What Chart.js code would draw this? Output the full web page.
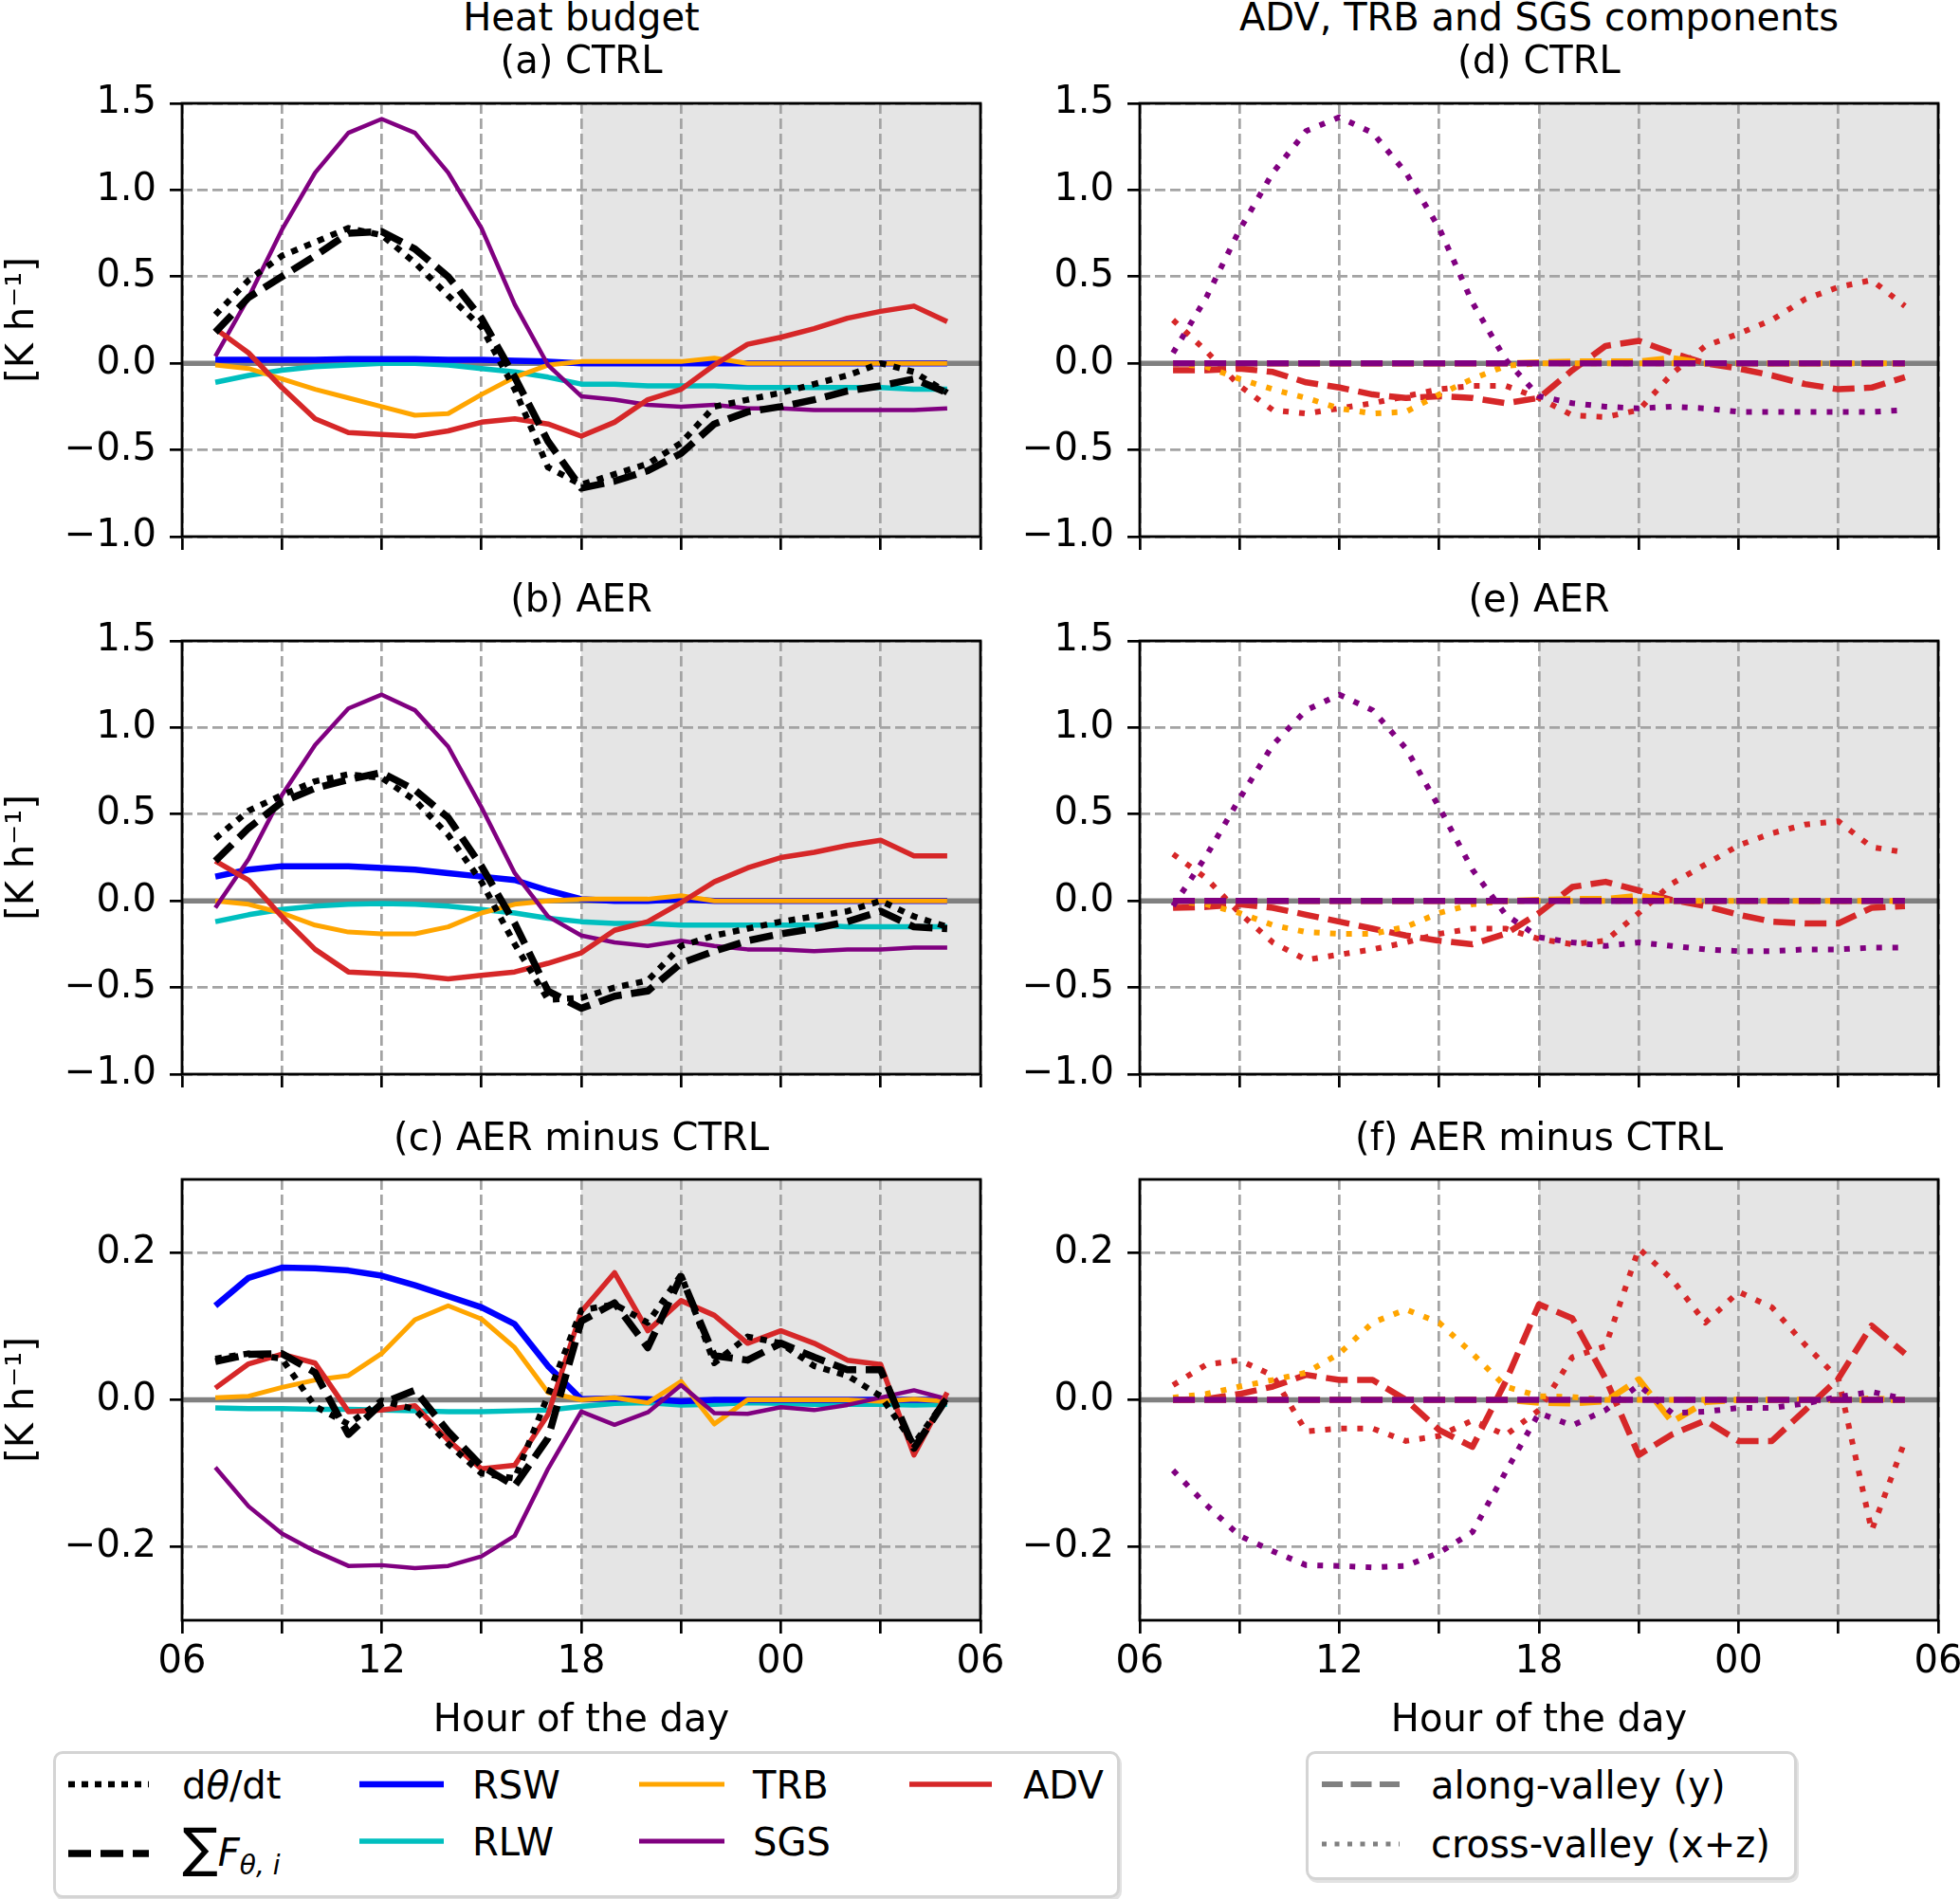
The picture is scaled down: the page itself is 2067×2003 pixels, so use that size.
<!DOCTYPE html>
<html>
<head>
<meta charset="utf-8">
<script src="https://cdn.jsdelivr.net/npm/chart.js@4.4.1/dist/chart.umd.min.js"></script>
<style>
html,body{margin:0;padding:0;background:#fff;overflow:hidden}
#page{position:relative;width:2067px;height:2003px;overflow:hidden;font-family:"DejaVu Sans",sans-serif;color:#000}
.panel{position:absolute}
.ttl{position:absolute;width:842px;text-align:center;font-size:40px;line-height:48px;white-space:nowrap}
.lgbox{position:absolute;box-sizing:border-box;border:3px solid #d4d4d4;border-radius:10px;background:#fff;box-shadow:2px 3px 0 #e2e2e2}
.lgtxt{position:absolute;font-size:40px;line-height:48px;white-space:nowrap}
.lgtxt i{font-style:italic}
</style>
</head>
<body>
<div id="page"></div>
<script>
// hours of the day (07 .. 05 next day, as 7..29)
const hours = [7, 8, 9, 10, 11, 12, 13, 14, 15, 16, 17, 18, 19, 20, 21, 22, 23, 24, 25, 26, 27, 28, 29];
const xTickLabels = ['06', '', '12', '', '18', '', '00', '', '06'];
const yTicksAB = [-1.0, -0.5, 0.0, 0.5, 1.0, 1.5];
const yTicksC = [-0.2, 0.0, 0.2];
const nightStart = 18;

// (a) CTRL
const dthdtA = [0.28, 0.48, 0.62, 0.70, 0.78, 0.74, 0.58, 0.39, 0.21, -0.15, -0.60, -0.70, -0.64, -0.58, -0.46, -0.25, -0.21, -0.17, -0.12, -0.07, 0.0, -0.05, -0.17];
const sumFA = [0.18, 0.38, 0.50, 0.62, 0.75, 0.76, 0.66, 0.50, 0.26, -0.08, -0.45, -0.72, -0.68, -0.62, -0.52, -0.35, -0.28, -0.25, -0.21, -0.16, -0.13, -0.09, -0.17];
const rswA = [0.02, 0.02, 0.02, 0.02, 0.025, 0.025, 0.025, 0.02, 0.02, 0.015, 0.01, 0.0, 0.0, 0.0, 0.0, 0.0, 0.0, 0.0, 0.0, 0.0, 0.0, 0.0, 0.0];
const rlwA = [-0.11, -0.07, -0.04, -0.02, -0.01, 0.0, 0.0, -0.01, -0.03, -0.05, -0.08, -0.12, -0.12, -0.13, -0.13, -0.13, -0.14, -0.14, -0.14, -0.14, -0.14, -0.15, -0.15];
const trbA = [-0.01, -0.03, -0.09, -0.15, -0.20, -0.25, -0.30, -0.29, -0.18, -0.08, -0.01, 0.01, 0.01, 0.01, 0.01, 0.03, 0.0, 0.0, 0.0, 0.0, 0.0, 0.0, 0.0];
const sgsA = [0.04, 0.38, 0.77, 1.10, 1.33, 1.41, 1.33, 1.10, 0.78, 0.34, -0.01, -0.19, -0.21, -0.24, -0.25, -0.24, -0.26, -0.26, -0.27, -0.27, -0.27, -0.27, -0.26];
const advA = [0.20, 0.06, -0.14, -0.32, -0.40, -0.41, -0.42, -0.39, -0.34, -0.32, -0.35, -0.42, -0.34, -0.21, -0.15, -0.01, 0.11, 0.15, 0.20, 0.26, 0.30, 0.33, 0.24];

// (b) AER
const dthdtB = [0.36, 0.52, 0.61, 0.69, 0.73, 0.71, 0.58, 0.38, 0.11, -0.25, -0.57, -0.56, -0.50, -0.46, -0.26, -0.20, -0.16, -0.12, -0.09, -0.06, 0.0, -0.09, -0.15];
const sumFB = [0.23, 0.42, 0.57, 0.65, 0.70, 0.74, 0.64, 0.48, 0.20, -0.13, -0.52, -0.62, -0.55, -0.52, -0.36, -0.29, -0.23, -0.19, -0.16, -0.12, -0.06, -0.15, -0.16];
const rswB = [0.14, 0.18, 0.20, 0.20, 0.20, 0.19, 0.18, 0.16, 0.14, 0.12, 0.06, 0.01, 0.0, 0.0, 0.01, 0.0, 0.0, 0.0, 0.0, 0.0, 0.0, 0.0, 0.0];
const rlwB = [-0.12, -0.08, -0.05, -0.03, -0.02, -0.015, -0.02, -0.03, -0.05, -0.07, -0.10, -0.12, -0.13, -0.13, -0.14, -0.14, -0.14, -0.14, -0.14, -0.15, -0.15, -0.15, -0.15];
const trbB = [0.0, -0.02, -0.07, -0.14, -0.18, -0.19, -0.19, -0.15, -0.07, -0.02, 0.0, 0.01, 0.01, 0.01, 0.03, 0.0, 0.0, 0.0, 0.0, 0.0, 0.0, 0.0, 0.0];
const sgsB = [-0.04, 0.24, 0.61, 0.90, 1.11, 1.19, 1.10, 0.89, 0.54, 0.16, -0.09, -0.20, -0.24, -0.26, -0.23, -0.26, -0.28, -0.28, -0.29, -0.28, -0.28, -0.27, -0.27];
const advB = [0.23, 0.12, -0.09, -0.28, -0.41, -0.42, -0.43, -0.45, -0.43, -0.41, -0.36, -0.30, -0.17, -0.12, -0.01, 0.11, 0.19, 0.25, 0.28, 0.32, 0.35, 0.26, 0.26];

// (c) AER minus CTRL
const dthdtC = [0.056, 0.063, 0.056, -0.009, -0.033, -0.001, -0.013, -0.060, -0.100, -0.107, 0.006, 0.122, 0.130, 0.105, 0.170, 0.050, 0.086, 0.077, 0.046, 0.033, 0.005, -0.060, 0.003];
const sumFC = [0.052, 0.062, 0.063, 0.037, -0.047, -0.005, 0.013, -0.043, -0.090, -0.117, -0.052, 0.107, 0.132, 0.071, 0.168, 0.060, 0.054, 0.077, 0.058, 0.041, 0.041, -0.066, 0.003];
const rswC = [0.128, 0.166, 0.180, 0.179, 0.176, 0.169, 0.156, 0.141, 0.126, 0.103, 0.046, 0.001, 0.002, 0.001, -0.002, 0.0, 0.0, 0.0, 0.0, 0.0, 0.0, 0.0, 0.0];
const rlwC = [-0.011, -0.012, -0.012, -0.013, -0.013, -0.014, -0.015, -0.016, -0.016, -0.015, -0.014, -0.009, -0.005, -0.004, -0.007, -0.006, -0.004, -0.005, -0.006, -0.006, -0.006, -0.007, -0.006];
const trbC = [0.003, 0.005, 0.017, 0.027, 0.033, 0.063, 0.109, 0.128, 0.110, 0.071, 0.010, 0.0, 0.003, -0.004, 0.025, -0.033, 0.0, 0.0, 0.0, 0.0, -0.002, 0.001, -0.002];
const sgsC = [-0.092, -0.145, -0.182, -0.206, -0.226, -0.225, -0.229, -0.226, -0.213, -0.185, -0.094, -0.016, -0.034, -0.017, 0.020, -0.018, -0.019, -0.010, -0.014, -0.007, 0.003, 0.013, 0.001];
const advC = [0.016, 0.049, 0.062, 0.050, -0.016, -0.014, -0.008, -0.055, -0.094, -0.089, -0.020, 0.120, 0.173, 0.094, 0.135, 0.115, 0.077, 0.094, 0.077, 0.054, 0.048, -0.075, 0.010];

// (d) CTRL components
const advAlongD = [-0.04, -0.04, -0.03, -0.05, -0.11, -0.14, -0.18, -0.20, -0.19, -0.20, -0.23, -0.20, -0.04, 0.10, 0.13, 0.06, 0.0, -0.03, -0.07, -0.12, -0.15, -0.14, -0.08];
const advCrossD = [0.25, 0.07, -0.13, -0.27, -0.29, -0.26, -0.23, -0.19, -0.15, -0.13, -0.13, -0.20, -0.30, -0.31, -0.27, -0.06, 0.10, 0.17, 0.25, 0.37, 0.44, 0.48, 0.33];
const trbAlongD = [0, 0, 0, 0, 0, 0, 0, 0, 0, 0, 0, 0.005, 0.01, 0.01, 0.01, 0.03, 0, 0, 0, 0, 0, 0, 0];
const trbCrossD = [0.0, -0.02, -0.09, -0.15, -0.20, -0.26, -0.29, -0.28, -0.18, -0.09, -0.015, 0, 0, 0, 0, 0, 0, 0, 0, 0, 0, 0, 0];
const sgsAlongD = [0, 0, 0, 0, 0, 0, 0, 0, 0, 0, 0, 0, 0, 0, 0, 0, 0, 0, 0, 0, 0, 0, 0];
const sgsCrossD = [0.06, 0.38, 0.77, 1.10, 1.34, 1.42, 1.33, 1.10, 0.78, 0.35, 0.02, -0.19, -0.23, -0.25, -0.26, -0.25, -0.26, -0.28, -0.28, -0.28, -0.28, -0.28, -0.27];

// (e) AER components
const advAlongE = [-0.04, -0.035, -0.02, -0.04, -0.08, -0.12, -0.16, -0.20, -0.23, -0.25, -0.19, -0.07, 0.08, 0.11, 0.06, 0.005, -0.03, -0.08, -0.12, -0.13, -0.13, -0.04, -0.03];
const advCrossE = [0.27, 0.13, -0.07, -0.24, -0.34, -0.31, -0.28, -0.24, -0.19, -0.16, -0.16, -0.22, -0.25, -0.23, -0.07, 0.10, 0.21, 0.32, 0.39, 0.44, 0.46, 0.31, 0.28];
const trbAlongE = [0, 0, 0, 0, 0, 0, 0, 0, 0, 0, 0, 0.005, 0.01, 0.01, 0.03, 0, 0, 0, 0, 0, 0, 0, 0];
const trbCrossE = [0.0, -0.02, -0.07, -0.14, -0.18, -0.19, -0.19, -0.15, -0.07, -0.02, 0.0, 0, 0, 0, 0, 0, 0, 0, 0, 0, 0, 0, 0];
const sgsAlongE = [0, 0, 0, 0, 0, 0, 0, 0, 0, 0, 0, 0, 0, 0, 0, 0, 0, 0, 0, 0, 0, 0, 0];
const sgsCrossE = [-0.03, 0.26, 0.59, 0.90, 1.10, 1.19, 1.10, 0.88, 0.54, 0.18, -0.08, -0.21, -0.24, -0.26, -0.24, -0.26, -0.28, -0.29, -0.29, -0.28, -0.28, -0.27, -0.27];

// (f) AER minus CTRL components
const advAlongF = [0.0, 0.001, 0.008, 0.018, 0.034, 0.027, 0.027, 0.0, -0.041, -0.064, 0.025, 0.130, 0.111, 0.029, -0.075, -0.047, -0.028, -0.056, -0.056, -0.014, 0.029, 0.101, 0.063];
const advCrossF = [0.020, 0.048, 0.054, 0.033, -0.043, -0.039, -0.039, -0.056, -0.049, -0.028, -0.048, -0.014, 0.058, 0.073, 0.206, 0.164, 0.105, 0.147, 0.126, 0.075, 0.029, -0.178, -0.056];
const trbAlongF = [0, 0, 0, 0, 0, 0, 0, 0, 0, 0, 0, -0.004, -0.005, -0.002, 0.028, -0.030, -0.003, 0, 0, 0, 0, 0, 0];
const trbCrossF = [0.003, 0.008, 0.018, 0.027, 0.037, 0.063, 0.105, 0.123, 0.105, 0.063, 0.018, 0.005, 0.004, 0.0, 0.0, 0.0, 0.0, 0.0, 0.0, 0.0, 0.0, 0.002, 0.0];
const sgsAlongF = [0, 0, 0, 0, 0, 0, 0, 0, 0, 0, 0, 0, 0, 0, 0, 0, 0, 0, 0, 0, 0, 0, 0];
const sgsCrossF = [-0.096, -0.143, -0.185, -0.206, -0.225, -0.226, -0.228, -0.226, -0.208, -0.180, -0.098, -0.018, -0.035, -0.014, 0.020, -0.018, -0.016, -0.011, -0.011, -0.005, 0.004, 0.011, 0.001];

const RSW = '#0000ff', RLW = '#00bfbf', TRB = '#ffa500', SGS = '#800080', ADV = '#d62728';
const GRID = '#a3a3a3';
const DOT_K = [7, 8], DASH_K = [25, 10];
const DASH_C = [23, 10], DOT_C = [6, 11];

Chart.defaults.font.family = '"DejaVu Sans", sans-serif';
Chart.defaults.font.size = 40;
Chart.defaults.color = '#000';

const page = document.getElementById('page');

// layout of the six axes (page pixels)
const AXL = [192, 1202];
const AXW = 842, AXH = 473;
const ROWTOP = [101, 668, 1236];
const YW = [192, 150];
const PADTOP = 30, PADRIGHT = 60;

const decor = {
  id: 'decor',
  beforeDraw(chart) {
    const {ctx, chartArea: a, scales: {x}} = chart;
    const x0 = x.getPixelForValue(nightStart);
    ctx.save();
    ctx.fillStyle = '#e5e5e5';
    ctx.fillRect(x0, a.top, a.right - x0, a.bottom - a.top);
    ctx.restore();
  },
  beforeDatasetsDraw(chart) {
    const {ctx, chartArea: a, scales: {y}} = chart;
    const y0 = y.getPixelForValue(0);
    ctx.save();
    ctx.strokeStyle = '#808080';
    ctx.lineWidth = 5.5;
    ctx.beginPath();
    ctx.moveTo(a.left, y0);
    ctx.lineTo(a.right, y0);
    ctx.stroke();
    ctx.restore();
  },
  afterDatasetsDraw(chart) {
    const {ctx, chartArea: a} = chart;
    ctx.save();
    ctx.strokeStyle = '#000';
    ctx.lineWidth = 2.8;
    ctx.strokeRect(a.left, a.top, a.right - a.left, a.bottom - a.top);
    ctx.restore();
  }
};

function line(vals, color, width, dash) {
  return {
    data: hours.map((h, i) => ({x: h, y: vals[i]})),
    borderColor: color, borderWidth: width, borderDash: dash || [],
    pointRadius: 0, tension: 0, fill: false,
    borderCapStyle: 'butt', borderJoinStyle: 'round'
  };
}

function fmtY(v) {
  const s = Math.abs(v).toFixed(1);
  return v < -1e-9 ? '\u2212' + s : s;
}

function makePanel(col, row, datasets, ymin, ymax, yTicks) {
  const bottom = row === 2;
  const xAxisH = bottom ? 134 : 30;
  const w = YW[col] + AXW + PADRIGHT;
  const h = PADTOP + AXH + xAxisH;
  const div = document.createElement('div');
  div.className = 'panel';
  div.style.left = (AXL[col] - YW[col]) + 'px';
  div.style.top = (ROWTOP[row] - PADTOP) + 'px';
  div.style.width = w + 'px';
  div.style.height = h + 'px';
  const cv = document.createElement('canvas');
  cv.width = w;
  cv.height = h;
  div.appendChild(cv);
  page.appendChild(div);

  // later datasets on top, as in the original plot
  datasets.forEach((d, i) => { d.order = -i; });

  new Chart(cv, {
    type: 'line',
    data: {datasets: datasets},
    plugins: [decor],
    options: {
      responsive: false,
      devicePixelRatio: 1,
      animation: false,
      layout: {padding: {top: PADTOP, right: PADRIGHT, left: 0, bottom: 0}},
      plugins: {legend: {display: false}, tooltip: {enabled: false}},
      scales: {
        x: {
          type: 'linear', min: 6, max: 30,
          ticks: {
            stepSize: 3, autoSkip: false, maxRotation: 0, padding: 7,
            callback: (v, i) => bottom ? xTickLabels[i] : ''
          },
          grid: {color: GRID, lineWidth: 2.7, tickLength: 14, tickColor: '#000', tickWidth: 2.7},
          border: {display: false, dash: [11, 5]},
          title: {display: bottom, text: 'Hour of the day', padding: {top: 0, bottom: 3}},
          afterFit: s => { s.height = xAxisH; }
        },
        y: {
          type: 'linear', min: ymin, max: ymax,
          afterBuildTicks: s => { s.ticks = yTicks.map(v => ({value: v})); },
          ticks: {padding: 14, callback: v => fmtY(v)},
          grid: {color: GRID, lineWidth: 2.7, tickLength: 13, tickColor: '#000', tickWidth: 2.7},
          border: {display: false, dash: [11, 5]},
          title: {display: col === 0, text: '[K h\u207B\u00B9]', padding: {top: 1, bottom: 0}},
          afterFit: s => { s.width = YW[col]; }
        }
      }
    }
  });
}

function budget(dth, sumF, rsw, rlw, trb, sgs, adv) {
  return [
    line(rlw, RLW, 5.5), line(rsw, RSW, 6.5), line(trb, TRB, 5),
    line(sgs, SGS, 4.5), line(adv, ADV, 5.5),
    line(dth, '#000', 6.5, DOT_K), line(sumF, '#000', 7.5, DASH_K)
  ];
}

function parts(advAl, advCr, trbAl, trbCr, sgsAl, sgsCr) {
  return [
    line(advAl, ADV, 6.5, DASH_C), line(advCr, ADV, 6, DOT_C),
    line(trbAl, TRB, 6.5, DASH_C), line(trbCr, TRB, 6, DOT_C),
    line(sgsAl, SGS, 6.5, DASH_C), line(sgsCr, SGS, 6, DOT_C)
  ];
}

makePanel(0, 0, budget(dthdtA, sumFA, rswA, rlwA, trbA, sgsA, advA), -1.0, 1.5, yTicksAB);
makePanel(0, 1, budget(dthdtB, sumFB, rswB, rlwB, trbB, sgsB, advB), -1.0, 1.5, yTicksAB);
makePanel(0, 2, budget(dthdtC, sumFC, rswC, rlwC, trbC, sgsC, advC), -0.3, 0.3, yTicksC);
makePanel(1, 0, parts(advAlongD, advCrossD, trbAlongD, trbCrossD, sgsAlongD, sgsCrossD), -1.0, 1.5, yTicksAB);
makePanel(1, 1, parts(advAlongE, advCrossE, trbAlongE, trbCrossE, sgsAlongE, sgsCrossE), -1.0, 1.5, yTicksAB);
makePanel(1, 2, parts(advAlongF, advCrossF, trbAlongF, trbCrossF, sgsAlongF, sgsCrossF), -0.3, 0.3, yTicksC);

// titles
function title(col, top, html) {
  const d = document.createElement('div');
  d.className = 'ttl';
  d.style.left = AXL[col] + 'px';
  d.style.top = top + 'px';
  d.innerHTML = html;
  page.appendChild(d);
}
title(0, -6, 'Heat budget');
title(0, 39, '(a) CTRL');
title(0, 607, '(b) AER');
title(0, 1175, '(c) AER minus CTRL');
title(1, -6, 'ADV, TRB and SGS components');
title(1, 39, '(d) CTRL');
title(1, 607, '(e) AER');
title(1, 1175, '(f) AER minus CTRL');

// legends
function box(x, y, w, h) {
  const d = document.createElement('div');
  d.className = 'lgbox';
  d.style.cssText = `left:${x}px;top:${y}px;width:${w}px;height:${h}px`;
  page.appendChild(d);
}
function handle(x, y, len, color, width, dash) {
  const ns = 'http://www.w3.org/2000/svg';
  const s = document.createElementNS(ns, 'svg');
  s.setAttribute('width', len);
  s.setAttribute('height', 20);
  s.style.cssText = `position:absolute;left:${x}px;top:${y - 10}px`;
  const l = document.createElementNS(ns, 'line');
  l.setAttribute('x1', 0); l.setAttribute('y1', 10);
  l.setAttribute('x2', len); l.setAttribute('y2', 10);
  l.setAttribute('stroke', color);
  l.setAttribute('stroke-width', width);
  if (dash) l.setAttribute('stroke-dasharray', dash.join(' '));
  s.appendChild(l);
  page.appendChild(s);
}
function text(x, y, html) {
  const d = document.createElement('div');
  d.className = 'lgtxt';
  d.style.left = x + 'px';
  d.style.top = y + 'px';
  d.innerHTML = html;
  page.appendChild(d);
}

box(56, 1847, 1125, 155);
handle(72, 1882, 85, '#000', 6.5, [7, 7]);
text(192, 1859, 'd<i>\u03B8</i>/dt');
handle(72, 1955, 85, '#000', 7.5, [24, 10]);
text(192, 1930, '<span style="font-size:56px;line-height:0">\u2211</span><i>F</i><sub style="font-size:28px;line-height:0;vertical-align:-9px"><i>\u03B8, i</i></sub>');
handle(379, 1882, 89, RSW, 6.5);
text(498, 1859, 'RSW');
handle(379, 1942, 89, RLW, 5.5);
text(498, 1919, 'RLW');
handle(674, 1882, 90, TRB, 5);
text(794, 1859, 'TRB');
handle(674, 1942, 90, SGS, 5);
text(794, 1919, 'SGS');
handle(959, 1882, 87, ADV, 5.5);
text(1079, 1859, 'ADV');

box(1377, 1847, 518, 136);
handle(1394, 1882, 82, '#808080', 6, [22, 8.5]);
text(1509, 1859, 'along-valley (y)');
handle(1394, 1945, 82, '#808080', 5, [5, 8.5]);
text(1509, 1921, 'cross-valley (x+z)');
</script>
</body>
</html>
